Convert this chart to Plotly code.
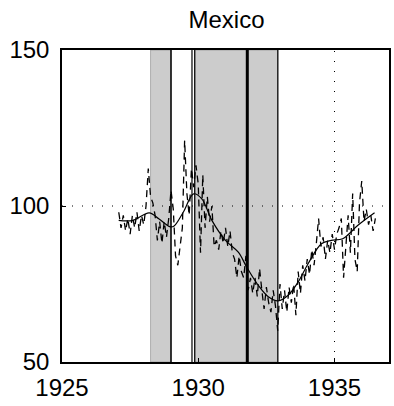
import plotly.graph_objects as go

# Monthly raw index, Feb 1927 .. Jul 1936
raw_start_year = 1927
raw_start_month = 2
raw_values = [
    98, 93, 97, 92, 96, 91, 97, 93, 98, 92, 97,              # 1927 Feb-Dec
    94, 100, 112, 103, 101, 97, 89, 95, 88, 95, 90, 96,      # 1928
    105, 99, 84, 81, 87, 93, 121, 104, 97, 112, 106, 113,    # 1929
    107, 85, 110, 93, 103, 95, 100, 87, 89, 86, 92, 88,      # 1930
    93, 87, 92, 85, 83, 77, 84, 79, 77, 84, 73, 77,          # 1931
    72, 77, 71, 80, 73, 67, 74, 69, 66, 73, 68, 60,          # 1932
    75, 67, 73, 66, 74, 69, 75, 65, 79, 72, 81, 76,          # 1933
    83, 78, 86, 81, 88, 96, 87, 90, 83, 89, 85, 91,          # 1934
    86, 91, 93, 96, 77, 86, 97, 85, 104, 83, 79, 101,        # 1935
    108, 95, 99, 94, 97, 92, 96,                             # 1936 Jan-Jul
]
raw_years = [raw_start_year + (raw_start_month - 1 + i) / 12 for i in range(len(raw_values))]

# Smoothed trend
trend_years = [1927.08, 1927.6, 1928.2, 1928.55, 1928.95, 1929.1, 1929.45, 1929.83,
               1930.13, 1930.5, 1931.0, 1931.47, 1931.78, 1932.2, 1932.57, 1932.93,
               1933.3, 1933.67, 1934.03, 1934.52, 1934.88, 1935.3, 1935.86, 1936.47]
trend_values = [95.4, 95.4, 97.8, 95.9, 93.4, 93.5, 98.0, 103.9,
                102.3, 95.4, 89.0, 85.2, 80.4, 74.6, 70.9, 69.6,
                71.4, 75.7, 81.5, 87.9, 89.0, 89.5, 93.8, 97.8]

# Shaded periods and vertical event lines
shade_starts = [1928.25, 1929.88]
shade_ends = [1929.0, 1932.92]
event_years = [1929.0, 1929.77, 1929.87, 1931.8, 1932.92]
event_widths = [1.5, 1.2, 1.2, 3.0, 1.2]

x_ticks = [1925, 1930, 1935]
y_ticks = [50, 100, 150]

fig = go.Figure()

shapes = []
for s, e in zip(shade_starts, shade_ends):
    shapes.append(dict(type="rect", xref="x", yref="y", x0=s, x1=e, y0=50, y1=150,
                       fillcolor="#cccccc", line=dict(color="#888888", width=0.6),
                       layer="below"))
for yr, w in zip(event_years, event_widths):
    shapes.append(dict(type="line", xref="x", yref="y", x0=yr, x1=yr, y0=50, y1=150,
                       line=dict(color="black", width=w), layer="below"))
shapes.append(dict(type="line", xref="x", yref="y", x0=1925, x1=1937, y0=100, y1=100,
                   line=dict(color="black", width=1, dash="1px,9px"), layer="below"))
shapes.append(dict(type="line", xref="x", yref="y", x0=1935, x1=1935, y0=50, y1=150,
                   line=dict(color="black", width=1, dash="1px,9px"), layer="below"))

fig.add_trace(go.Scatter(x=raw_years, y=raw_values, mode="lines",
                         line=dict(color="black", width=1.3, dash="7px,5px"),
                         showlegend=False, hoverinfo="skip"))
fig.add_trace(go.Scatter(x=trend_years, y=trend_values, mode="lines",
                         line=dict(color="black", width=1.2, shape="spline", smoothing=1.0),
                         showlegend=False, hoverinfo="skip"))

font = dict(family="Liberation Sans, Arial, Helvetica, sans-serif", size=24, color="black")

fig.update_layout(
    width=394, height=406,
    margin=dict(l=62, r=3, t=50, b=44),
    paper_bgcolor="white", plot_bgcolor="white",
    shapes=shapes,
    font=font,
    title=dict(text="Mexico", x=(62 + 391) / 2 / 394, xanchor="center",
               y=1 - 20 / 406, yanchor="middle",
               font=dict(family=font["family"], size=24, color="black")),
    xaxis=dict(range=[1925, 1937], tickvals=x_ticks, ticktext=[str(t) for t in x_ticks],
               showgrid=False, zeroline=False, showline=True, linecolor="black",
               linewidth=1.5, mirror=True, ticks="inside", ticklen=4,
               tickcolor="black", ticklabelstandoff=3,
               tickfont=dict(family=font["family"], size=24, color="black")),
    yaxis=dict(range=[50, 150], tickvals=y_ticks, ticktext=[str(t) for t in y_ticks],
               showgrid=False, zeroline=False, showline=True, linecolor="black",
               linewidth=1.5, mirror=True, ticks="inside", ticklen=4,
               tickcolor="black", ticklabelstandoff=6,
               tickfont=dict(family=font["family"], size=24, color="black")),
)

fig.write_html("out.html", config={"displayModeBar": False},
               post_script="document.body.style.margin='0';document.body.style.padding='0';")
